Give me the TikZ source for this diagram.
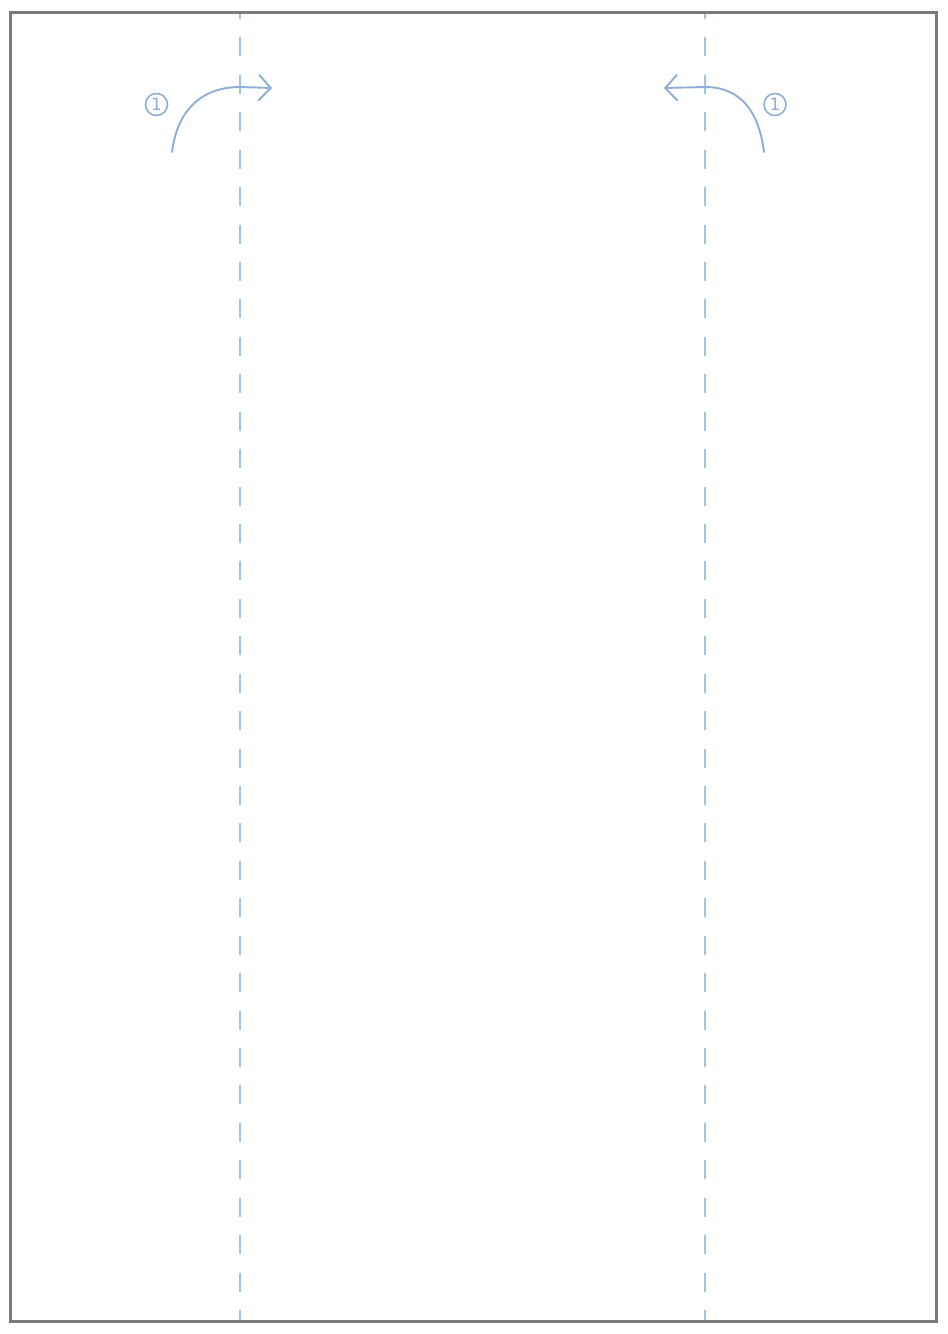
\documentclass[tikz,border=0pt]{standalone}
\usepackage{fontspec}
\setsansfont{DejaVu Sans}
\usetikzlibrary{arrows.meta}
\definecolor{framegray}{HTML}{7A7A7A}
\definecolor{foldblue}{HTML}{9CC6E4}
\definecolor{arrowblue}{HTML}{8FAFD8}
\begin{document}
\begin{tikzpicture}[x=1pt,y=-1pt,
  frame/.style={draw=framegray,line width=3pt},
  foldline/.style={draw=foldblue,line width=1.8pt,dash pattern=on 19pt off 18.43pt},
  turnarrow/.style={draw=arrowblue,line width=1.9pt,line cap=round,-{Straight Barb[length=12pt,width=26pt,line width=1.9pt]}},
  stepnum/.style={circle,draw=arrowblue,line width=1.6pt,text=arrowblue,inner sep=0pt,minimum size=22pt,font=\sffamily\fontsize{17}{17}\selectfont}
]
\useasboundingbox (0,0) rectangle (948,1334);
\fill[white] (0,0) rectangle (948,1334);
% fold lines
\coordinate (lt) at (240,0);
\coordinate (lb) at (240,1320);
\coordinate (rt) at (705,0);
\coordinate (rb) at (705,1320);
\draw[foldline] (lt) -- (lb);
\draw[foldline] (rt) -- (rb);
\fill[white] (0,0) rectangle (948,11);
\draw[frame] (10.5,12.5) rectangle (936,1321);
% step markers
\node[stepnum] (n1) at (156.5,104.5) {1};
\node[stepnum] (n2) at (775,104.5) {1};
% turn arrows
\coordinate (ls) at (172,152);
\coordinate (lm) at (240,87);
\coordinate (le) at (272,88);
\draw[turnarrow] (ls) .. controls (177,112) and (200,87) .. (lm) -- (le);
\coordinate (rs) at (764,152);
\coordinate (rm) at (705,87);
\coordinate (re) at (664,88);
\draw[turnarrow] (rs) .. controls (759,112) and (741,87) .. (rm) -- (re);
\end{tikzpicture}
\end{document}
